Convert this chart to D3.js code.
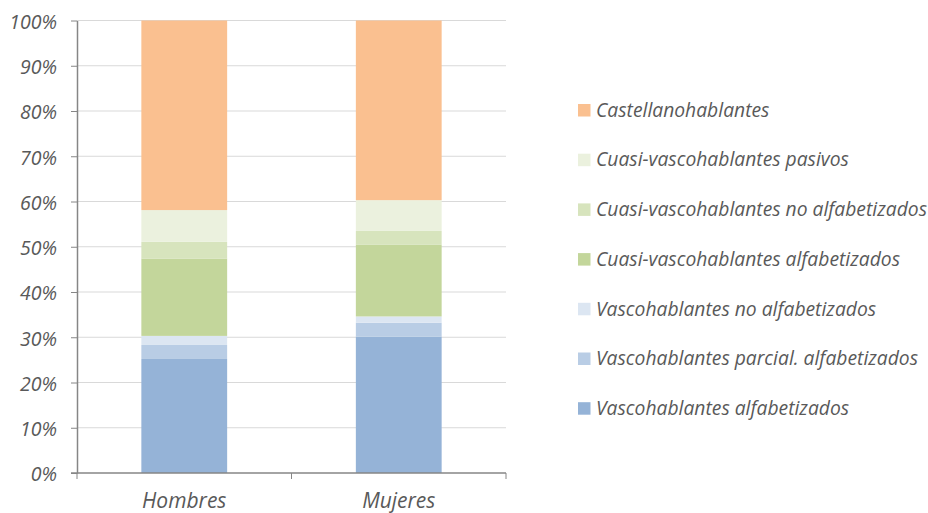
<!DOCTYPE html>
<html>
<head>
<meta charset="utf-8">
<script src="https://cdn.jsdelivr.net/npm/d3@7"></script>
<style>
  body { margin: 0; background: #fff; }
  svg text { font-family: "Open Sans", sans-serif; font-style: italic; fill: #595959; }
</style>
</head>
<body>
<svg id="chart" width="928" height="513"></svg>
<script>
// categories and series (bottom to top in the stack)
const categories = ["Hombres", "Mujeres"];
const seriesNames = [
  "Vascohablantes alfabetizados",
  "Vascohablantes parcial. alfabetizados",
  "Vascohablantes no alfabetizados",
  "Cuasi-vascohablantes alfabetizados",
  "Cuasi-vascohablantes no alfabetizados",
  "Cuasi-vascohablantes pasivos",
  "Castellanohablantes"
];
const seriesColors = ["#95B3D7", "#B9CDE5", "#DCE6F2", "#C3D69B", "#D7E4BD", "#EBF1DE", "#FAC090"];
// percentages per category, same order as seriesNames
const hombresValues = [25.2, 3.1, 2.0, 17.1, 3.7, 7.0, 41.9];
const mujeresValues = [30.1, 3.1, 1.4, 15.9, 3.0, 6.8, 39.7];
const yTicks = [0, 10, 20, 30, 40, 50, 60, 70, 80, 90, 100];

// build table for d3.stack
const table = categories.map((c, i) => {
  const vals = i === 0 ? hombresValues : mujeresValues;
  const row = { cat: c };
  seriesNames.forEach((s, j) => row[s] = vals[j]);
  return row;
});

const svg = d3.select("#chart");
const plotLeft = 77, plotRight = 506, plotTop = 20.5, plotBottom = 473;

const x = d3.scaleBand().domain(categories).range([plotLeft, plotRight]).paddingInner(0.6).paddingOuter(0.3);
const y = d3.scaleLinear().domain([0, 100]).range([plotBottom, plotTop]);

// gridlines
svg.append("g").selectAll("line").data(yTicks.filter(d => d > 0)).join("line")
  .attr("x1", plotLeft).attr("x2", plotRight)
  .attr("y1", d => y(d)).attr("y2", d => y(d))
  .style("stroke", "#D9D9D9").style("stroke-width", 1);

// bars
const stack = d3.stack().keys(seriesNames)(table);
svg.append("g").selectAll("g").data(stack).join("g")
  .attr("fill", (d, i) => seriesColors[i])
  .selectAll("rect").data(d => d).join("rect")
  .attr("x", d => x(d.data.cat))
  .attr("width", x.bandwidth())
  .attr("y", d => y(d[1]))
  .attr("height", d => y(d[0]) - y(d[1]));

// y axis
const yAxis = svg.append("g").attr("transform", `translate(${plotLeft},0)`)
  .call(d3.axisLeft(y).tickValues(yTicks).tickFormat(d => d + "%").tickSize(6).tickSizeOuter(0));
yAxis.select(".domain").style("stroke", "#868686").style("stroke-width", 1.5);
yAxis.selectAll(".tick line").style("stroke", "#868686");
yAxis.selectAll(".tick text").attr("x", -20).attr("dy", "0.4em")
  .style("font-size", "19.5px").style("fill", "#595959");

// x axis
const xAxisG = svg.append("g").attr("transform", `translate(0,${plotBottom})`);
xAxisG.append("line").attr("x1", plotLeft - 6).attr("x2", plotRight).attr("y1", 0).attr("y2", 0)
  .style("stroke", "#868686").style("stroke-width", 1.5);
const xTickPos = [plotLeft, plotLeft + (plotRight - plotLeft) / 2, plotRight];
xAxisG.selectAll("line.xt").data(xTickPos).join("line").attr("class", "xt")
  .attr("x1", d => d).attr("x2", d => d).attr("y1", 0).attr("y2", 6)
  .style("stroke", "#868686");
xAxisG.selectAll("text").data(categories).join("text")
  .attr("x", d => x(d) + x.bandwidth() / 2)
  .attr("y", 35)
  .attr("text-anchor", "middle")
  .style("font-size", "21px")
  .text(d => d);

// legend (top = Castellanohablantes)
const legendItems = seriesNames.map((s, i) => ({ name: s, color: seriesColors[i] })).reverse();
const lg = svg.append("g").attr("transform", "translate(578,110)");
const rowH = 49.7;
const item = lg.selectAll("g").data(legendItems).join("g")
  .attr("transform", (d, i) => `translate(0,${i * rowH})`);
item.append("rect").attr("x", 0).attr("y", -6).attr("width", 12.5).attr("height", 12.5)
  .attr("fill", d => d.color);
item.append("text").attr("x", 18).attr("dy", "0.35em")
  .style("font-size", "19.3px")
  .text(d => d.name);
</script>
</body>
</html>
